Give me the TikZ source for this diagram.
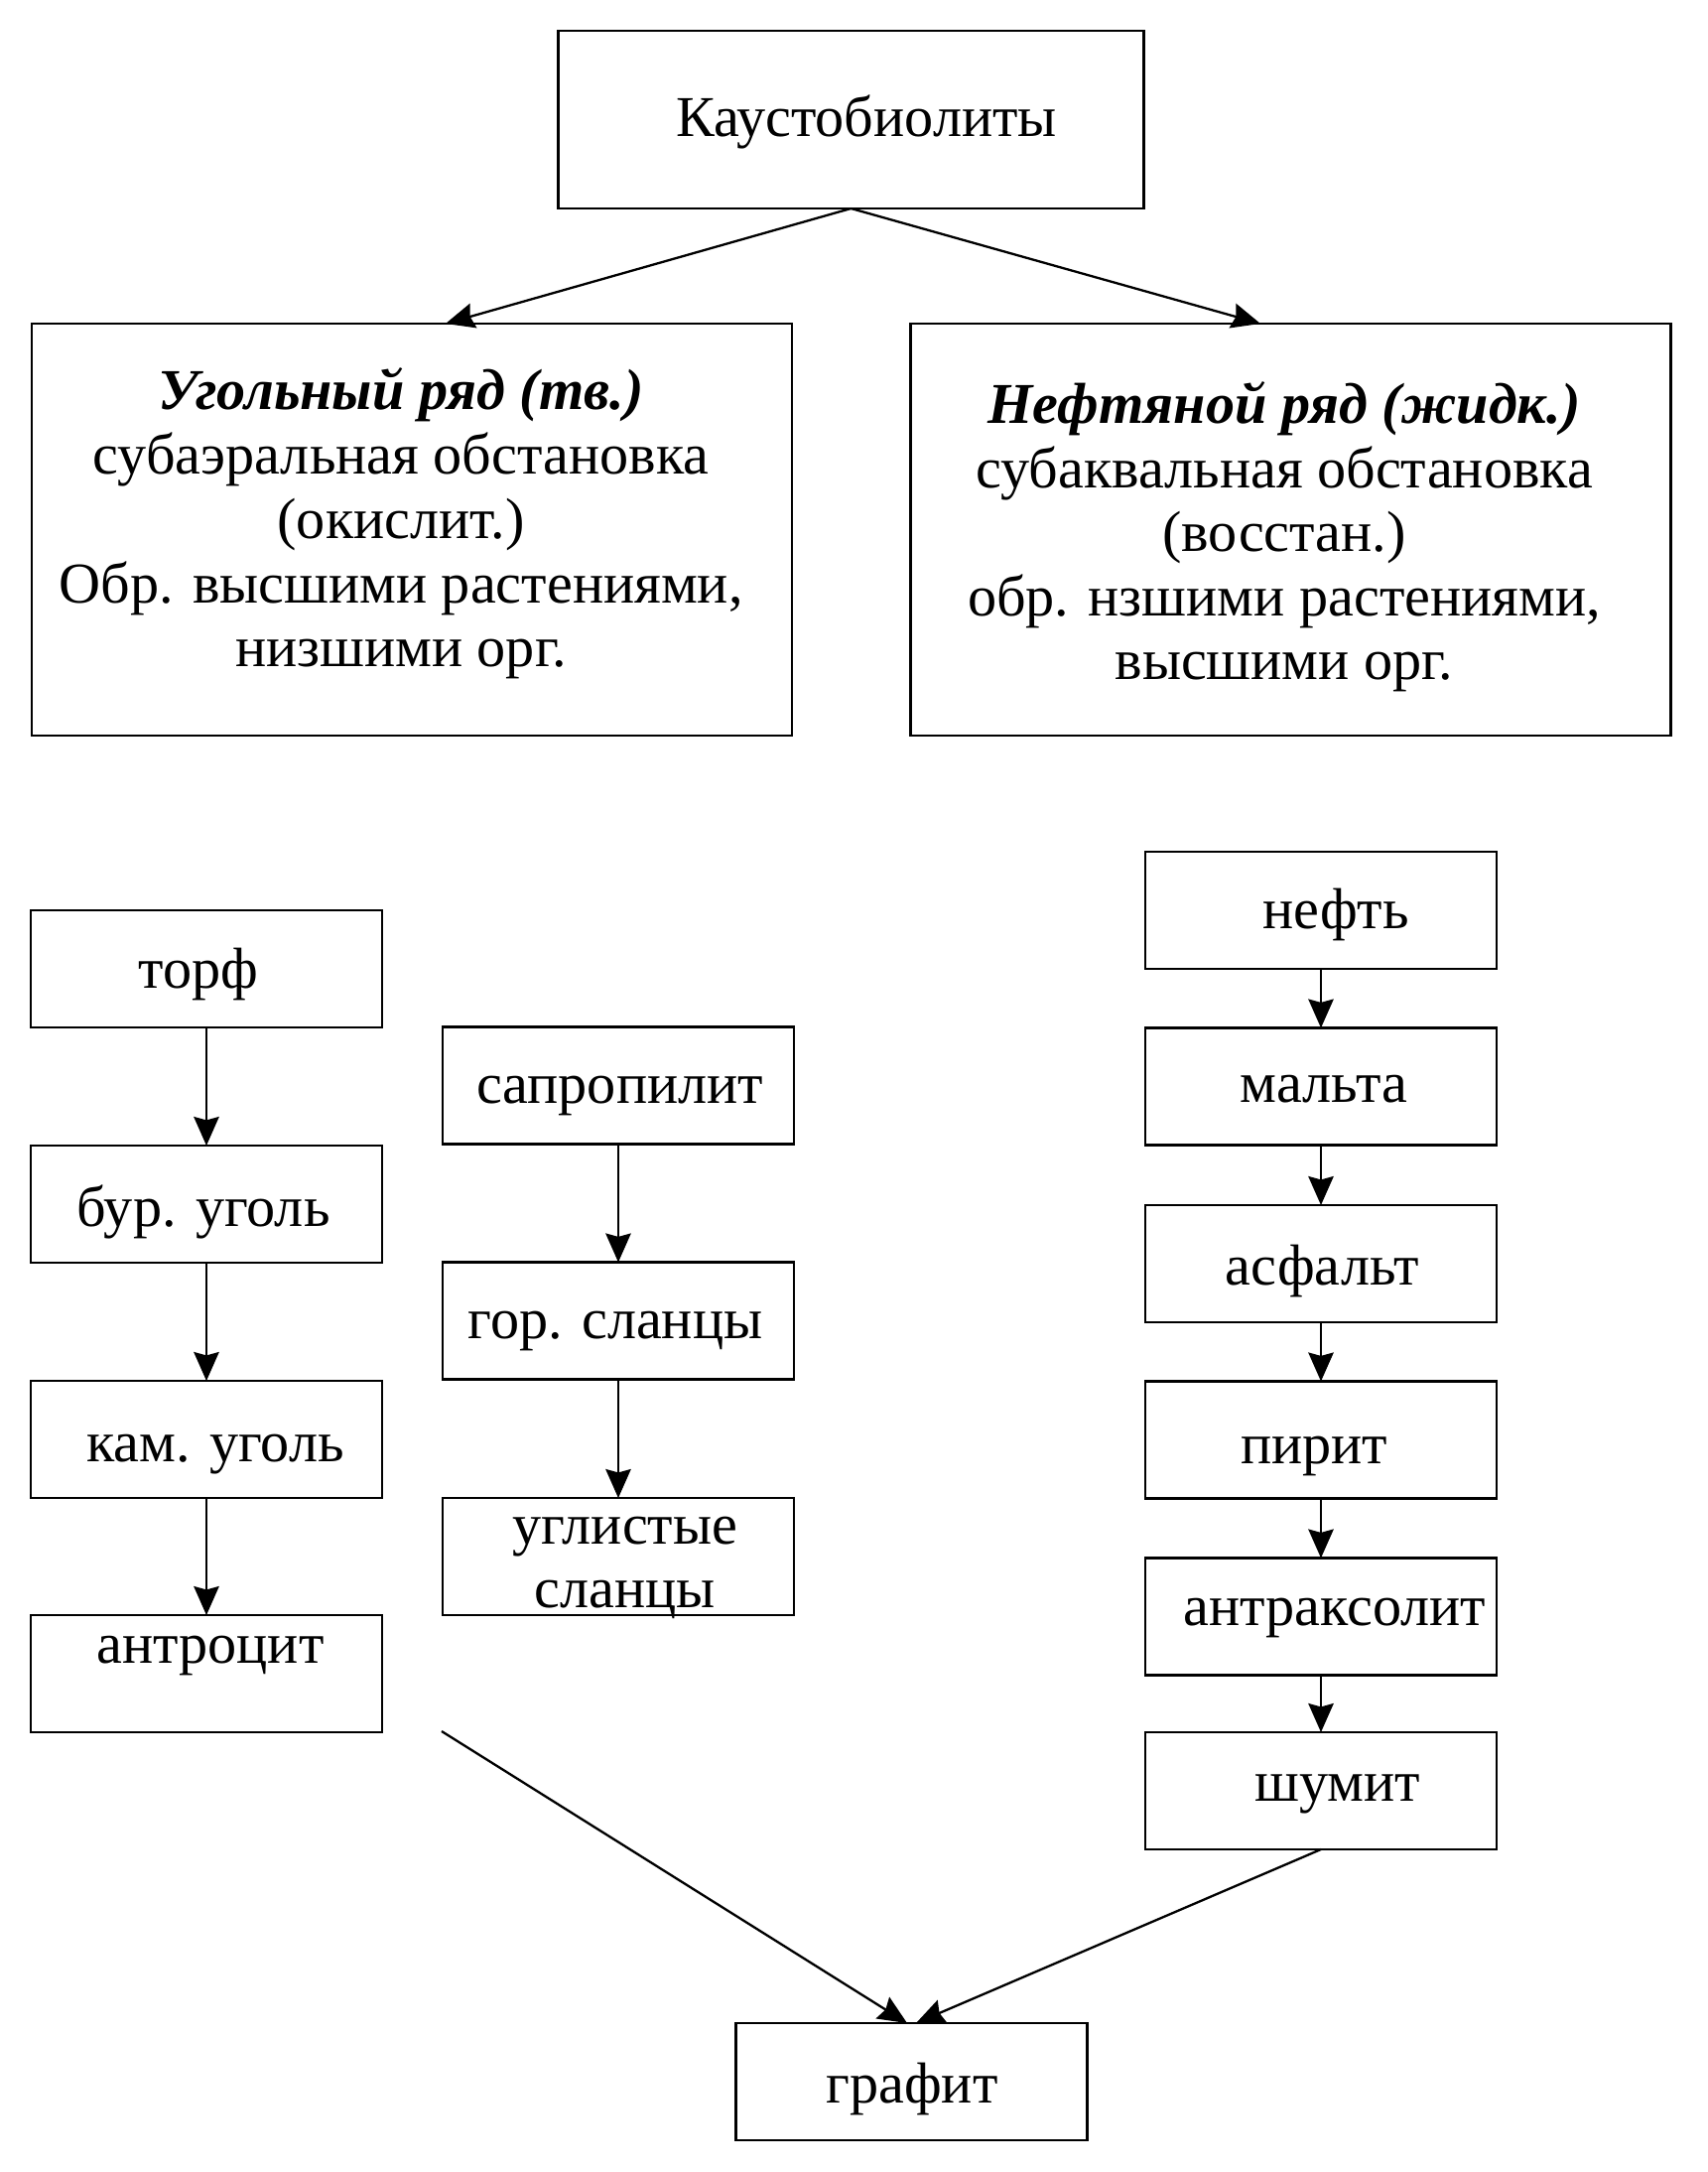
\documentclass[tikz,border=0pt]{standalone}
\usepackage{fontspec}
\setmainfont{Liberation Serif}
\usetikzlibrary{arrows.meta}
\begin{document}
\begin{tikzpicture}[x=0.5pt,y=-0.5pt,
  every node/.style={inner sep=0pt, outer sep=0pt},
  bx/.style={draw, line width=1.05pt, minimum width=177pt, minimum height=59pt},
  bigbx/.style={draw, line width=1.05pt, minimum width=383pt, minimum height=207.5pt},
  topbx/.style={draw, line width=1.05pt, minimum width=295pt, minimum height=89.5pt},
  txt/.style={font=\fontsize{29.1}{32}\selectfont, anchor=base},
  arr/.style={line width=1.15pt, -{Stealth[length=14.5pt,width=12.7pt,inset=1.7pt]}}]
\useasboundingbox (0,0) rectangle (1720,2188);
% boxes
\node[topbx] (kaus) at (857.5,120.5) {};
\node[bigbx] (ugol) at (415,533.5) {};
\node[bigbx] (neftr) at (1300.5,533.5) {};
\node[bx] (torf) at (208,976) {};
\node[bx] (bur) at (208,1213) {};
\node[bx] (kam) at (208,1450) {};
\node[bx] (antr) at (208,1686) {};
\node[bx] (sapr) at (623,1093.5) {};
\node[bx] (gor) at (623,1330.5) {};
\node[bx] (uglist) at (623,1568) {};
\node[bx] (neft) at (1331,917) {};
\node[bx] (malta) at (1331,1094.5) {};
\node[bx] (asf) at (1331,1273) {};
\node[bx] (pirit) at (1331,1450.5) {};
\node[bx] (antraks) at (1331,1628.5) {};
\node[bx] (shumit) at (1331,1804) {};
\node[bx] (grafit) at (918.5,2097) {};
% texts
\node[txt] (t-kaus) at (873,138) {Каустобиолиты};
\node[txt] (t-ugol1) at (404,412) {\textbf{\textit{Угольный ряд (тв.)}}};
\node[txt] (t-ugol2) at (404,477.5) {субаэральная обстановка};
\node[txt] (t-ugol3) at (404,542.5) {(окислит.)};
\node[txt] (t-ugol4) at (404,607.5) {Обр. высшими растениями,};
\node[txt] (t-ugol5) at (404,671.5) {низшими орг.};
\node[txt] (t-neftr1) at (1294,426.5) {\textbf{\textit{Нефтяной ряд (жидк.)}}};
\node[txt] (t-neftr2) at (1294,491) {субаквальная обстановка};
\node[txt] (t-neftr3) at (1294,555.5) {(восстан.)};
\node[txt] (t-neftr4) at (1294,620.5) {обр. нзшими растениями,};
\node[txt] (t-neftr5) at (1294,684.5) {высшими орг.};
\node[txt] (t-torf) at (200,995) {торф};
\node[txt] (t-bur) at (205,1235) {бур. уголь};
\node[txt] (t-kam) at (217,1472) {кам. уголь};
\node[txt] (t-antr) at (212,1675) {антроцит};
\node[txt] (t-sapr) at (624.5,1111.5) {сапропилит};
\node[txt] (t-gor) at (620,1348.6) {гор. сланцы};
\node[txt] (t-uglist1) at (630,1555) {углистые};
\node[txt] (t-uglist2) at (629.5,1619) {сланцы};
\node[txt] (t-neft) at (1346,935) {нефть};
\node[txt] (t-malta) at (1334,1110) {мальта};
\node[txt] (t-asf) at (1332.5,1294.8) {асфальт};
\node[txt] (t-pirit) at (1324,1474) {пирит};
\node[txt] (t-antraks) at (1345,1637.7) {антраксолит};
\node[txt] (t-shumit) at (1348,1814.4) {шумит};
\node[txt] (t-grafit) at (919,2118) {графит};
% coordinates
\coordinate (lt) at (449,326);
\coordinate (rt) at (1270,326);
\coordinate (ls) at (445,1744);
\coordinate (g1) at (914,2038);
\coordinate (g2) at (923,2038);
% connectors
\draw[arr] (kaus.south) -- (lt);
\draw[arr] (kaus.south) -- (rt);
\draw[arr] (torf) -- (bur);
\draw[arr] (bur) -- (kam);
\draw[arr] (kam) -- (antr);
\draw[arr] (sapr) -- (gor);
\draw[arr] (gor) -- (uglist);
\draw[arr] (neft) -- (malta);
\draw[arr] (malta) -- (asf);
\draw[arr] (asf) -- (pirit);
\draw[arr] (pirit) -- (antraks);
\draw[arr] (antraks) -- (shumit);
\draw[arr] (ls) -- (g1);
\draw[arr] (shumit.south) -- (g2);
\end{tikzpicture}
\end{document}
